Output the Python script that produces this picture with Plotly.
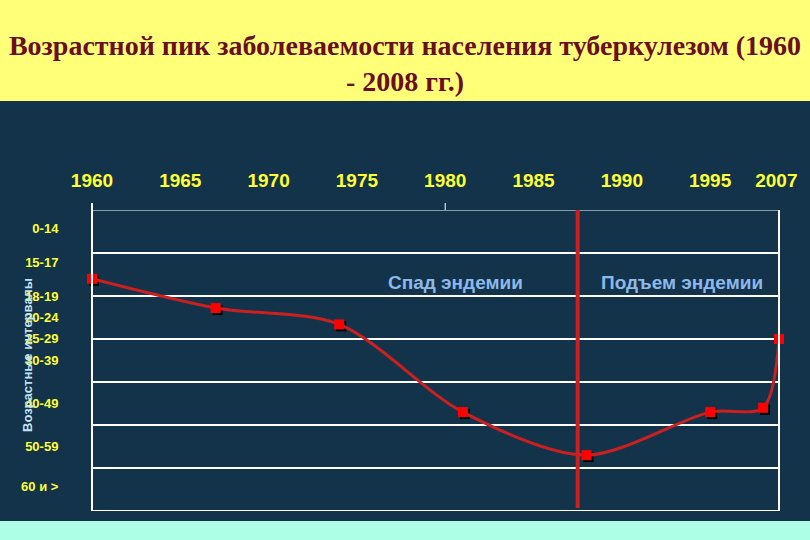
import plotly.graph_objects as go

# ---- data ----
x_ticks = [1960, 1965, 1970, 1975, 1980, 1985, 1990, 1995, 1998.75]
x_ticktext = ["1960", "1965", "1970", "1975", "1980", "1985", "1990", "1995", "2007"]
age_labels = ["0-14", "15-17", "18-19", "20-24", "25-29", "30-39", "40-49", "50-59", "60 и >"]
age_label_pos = [0.44, 1.21, 2.0, 2.51, 2.98, 3.49, 4.51, 5.49, 6.42]
band_bounds = [0, 1, 2, 3, 4, 5, 6, 7]

pt_year_pos = [1960, 1967, 1974, 1981, 1988, 1995, 1998, 1998.9]
pt_age_pos = [1.60, 2.28, 2.66, 4.70, 5.70, 4.70, 4.60, 3.0]

divider_year = 1987.5
title_text = "Возрастной пик заболеваемости населения туберкулезом (1960<br>- 2008 гг.)"

NAVY = "#13334b"
YELLOW = "#ffff78"
AQUA = "#adffe6"
TICK_YELLOW = "#ffff33"
RED_LINE = "#cc1f1f"

# plot area in pixels: x 92..779, y 210..511
L, R, T, B = 92, 779, 210, 511
W, H = 810, 540
pw, ph = R - L, B - T

def px2paper_x(px):
    return (px - L) / pw

def px2paper_y(py):
    return (B - py) / ph

fig = go.Figure()

# shadow of markers (offset by 2 px)
dx = 2 / (pw / (1998.9 - 1960))
dy = 2 / (ph / 7)
fig.add_trace(go.Scatter(
    x=[v + dx for v in pt_year_pos], y=[v + dy for v in pt_age_pos],
    mode="markers", marker=dict(symbol="square", size=10, color="#000000"),
    hoverinfo="skip", cliponaxis=False, showlegend=False))

fig.add_trace(go.Scatter(
    x=pt_year_pos, y=pt_age_pos, mode="lines+markers",
    line=dict(color=RED_LINE, width=3, shape="spline", smoothing=0.85),
    marker=dict(symbol="square", size=10, color="#ff0000"),
    cliponaxis=False, showlegend=False))

shapes = []
# background bands
shapes.append(dict(type="rect", xref="paper", yref="paper",
                   x0=px2paper_x(0), x1=px2paper_x(W), y0=px2paper_y(101), y1=px2paper_y(0),
                   fillcolor=YELLOW, line=dict(width=0), layer="below"))
shapes.append(dict(type="rect", xref="paper", yref="paper",
                   x0=px2paper_x(0), x1=px2paper_x(W), y0=px2paper_y(540), y1=px2paper_y(521),
                   fillcolor=AQUA, line=dict(width=0), layer="below"))
# horizontal grid lines
for i, b in enumerate(band_bounds):
    shapes.append(dict(type="line", xref="paper", yref="y", x0=0, x1=1, y0=b, y1=b,
                       line=dict(color="white", width=1 if i == 0 else 2), layer="below"))
# left and right frame lines
shapes.append(dict(type="line", xref="paper", yref="paper", x0=0, x1=0,
                   y0=0, y1=px2paper_y(203), line=dict(color="white", width=2)))
shapes.append(dict(type="line", xref="paper", yref="paper", x0=1, x1=1,
                   y0=0, y1=1, line=dict(color="white", width=2)))
# small tick at 1980
shapes.append(dict(type="line", xref="x", yref="paper", x0=1980, x1=1980,
                   y0=1, y1=px2paper_y(203), line=dict(color="white", width=1)))
# divider
shapes.append(dict(type="line", xref="x", yref="y", x0=divider_year, x1=divider_year,
                   y0=-0.05, y1=6.93, line=dict(color=RED_LINE, width=4)))

annotations = [
    dict(text="<b>Спад эндемии</b>", x=px2paper_x(455), xref="paper", y=px2paper_y(282), yref="paper",
         xanchor="center", yanchor="middle", showarrow=False,
         font=dict(family="Liberation Sans, Arial", size=19, color="#8db8ea")),
    dict(text="<b>Подъем эндемии</b>", x=px2paper_x(682), xref="paper", y=px2paper_y(282), yref="paper",
         xanchor="center", yanchor="middle", showarrow=False,
         font=dict(family="Liberation Sans, Arial", size=19, color="#8db8ea")),
    dict(text="<b>Возрастные интервалы</b>", x=px2paper_x(27), xref="paper", y=px2paper_y(355), yref="paper",
         xanchor="center", yanchor="middle", textangle=-90, showarrow=False,
         font=dict(family="Liberation Sans, Arial", size=13, color="#c3e2f2")),
]

fig.update_layout(
    width=W, height=H,
    margin=dict(l=L, r=W - R, t=T, b=H - B, pad=0),
    paper_bgcolor=NAVY, plot_bgcolor=NAVY,
    title=dict(text="<b>" + title_text + "</b>", x=0.5, xanchor="center", xref="container",
               y=1 - 55 / H, yanchor="middle", yref="container",
               font=dict(family="Liberation Serif, Times New Roman", size=28, color="#6a0f1f")),
    xaxis=dict(range=[1960, 1998.9], side="top", tickvals=x_ticks, ticktext=x_ticktext,
               showgrid=False, zeroline=False, showline=False,
               ticks="outside", ticklen=14, tickcolor="rgba(0,0,0,0)",
               tickfont=dict(family="Liberation Sans, Arial", size=19, color=TICK_YELLOW)),
    yaxis=dict(range=[7, 0], tickvals=age_label_pos, ticktext=["<b>" + t + "</b>" for t in age_labels],
               showgrid=False, zeroline=False, showline=False,
               ticks="outside", ticklen=30, tickcolor="rgba(0,0,0,0)",
               tickfont=dict(family="Liberation Sans, Arial", size=13, color=TICK_YELLOW)),
    shapes=shapes, annotations=annotations,
)
fig.update_xaxes(tickfont_weight="bold")

fig.write_html("out.html", config={"displayModeBar": False},
               post_script="document.body.style.margin='0';document.body.style.overflow='hidden';")
